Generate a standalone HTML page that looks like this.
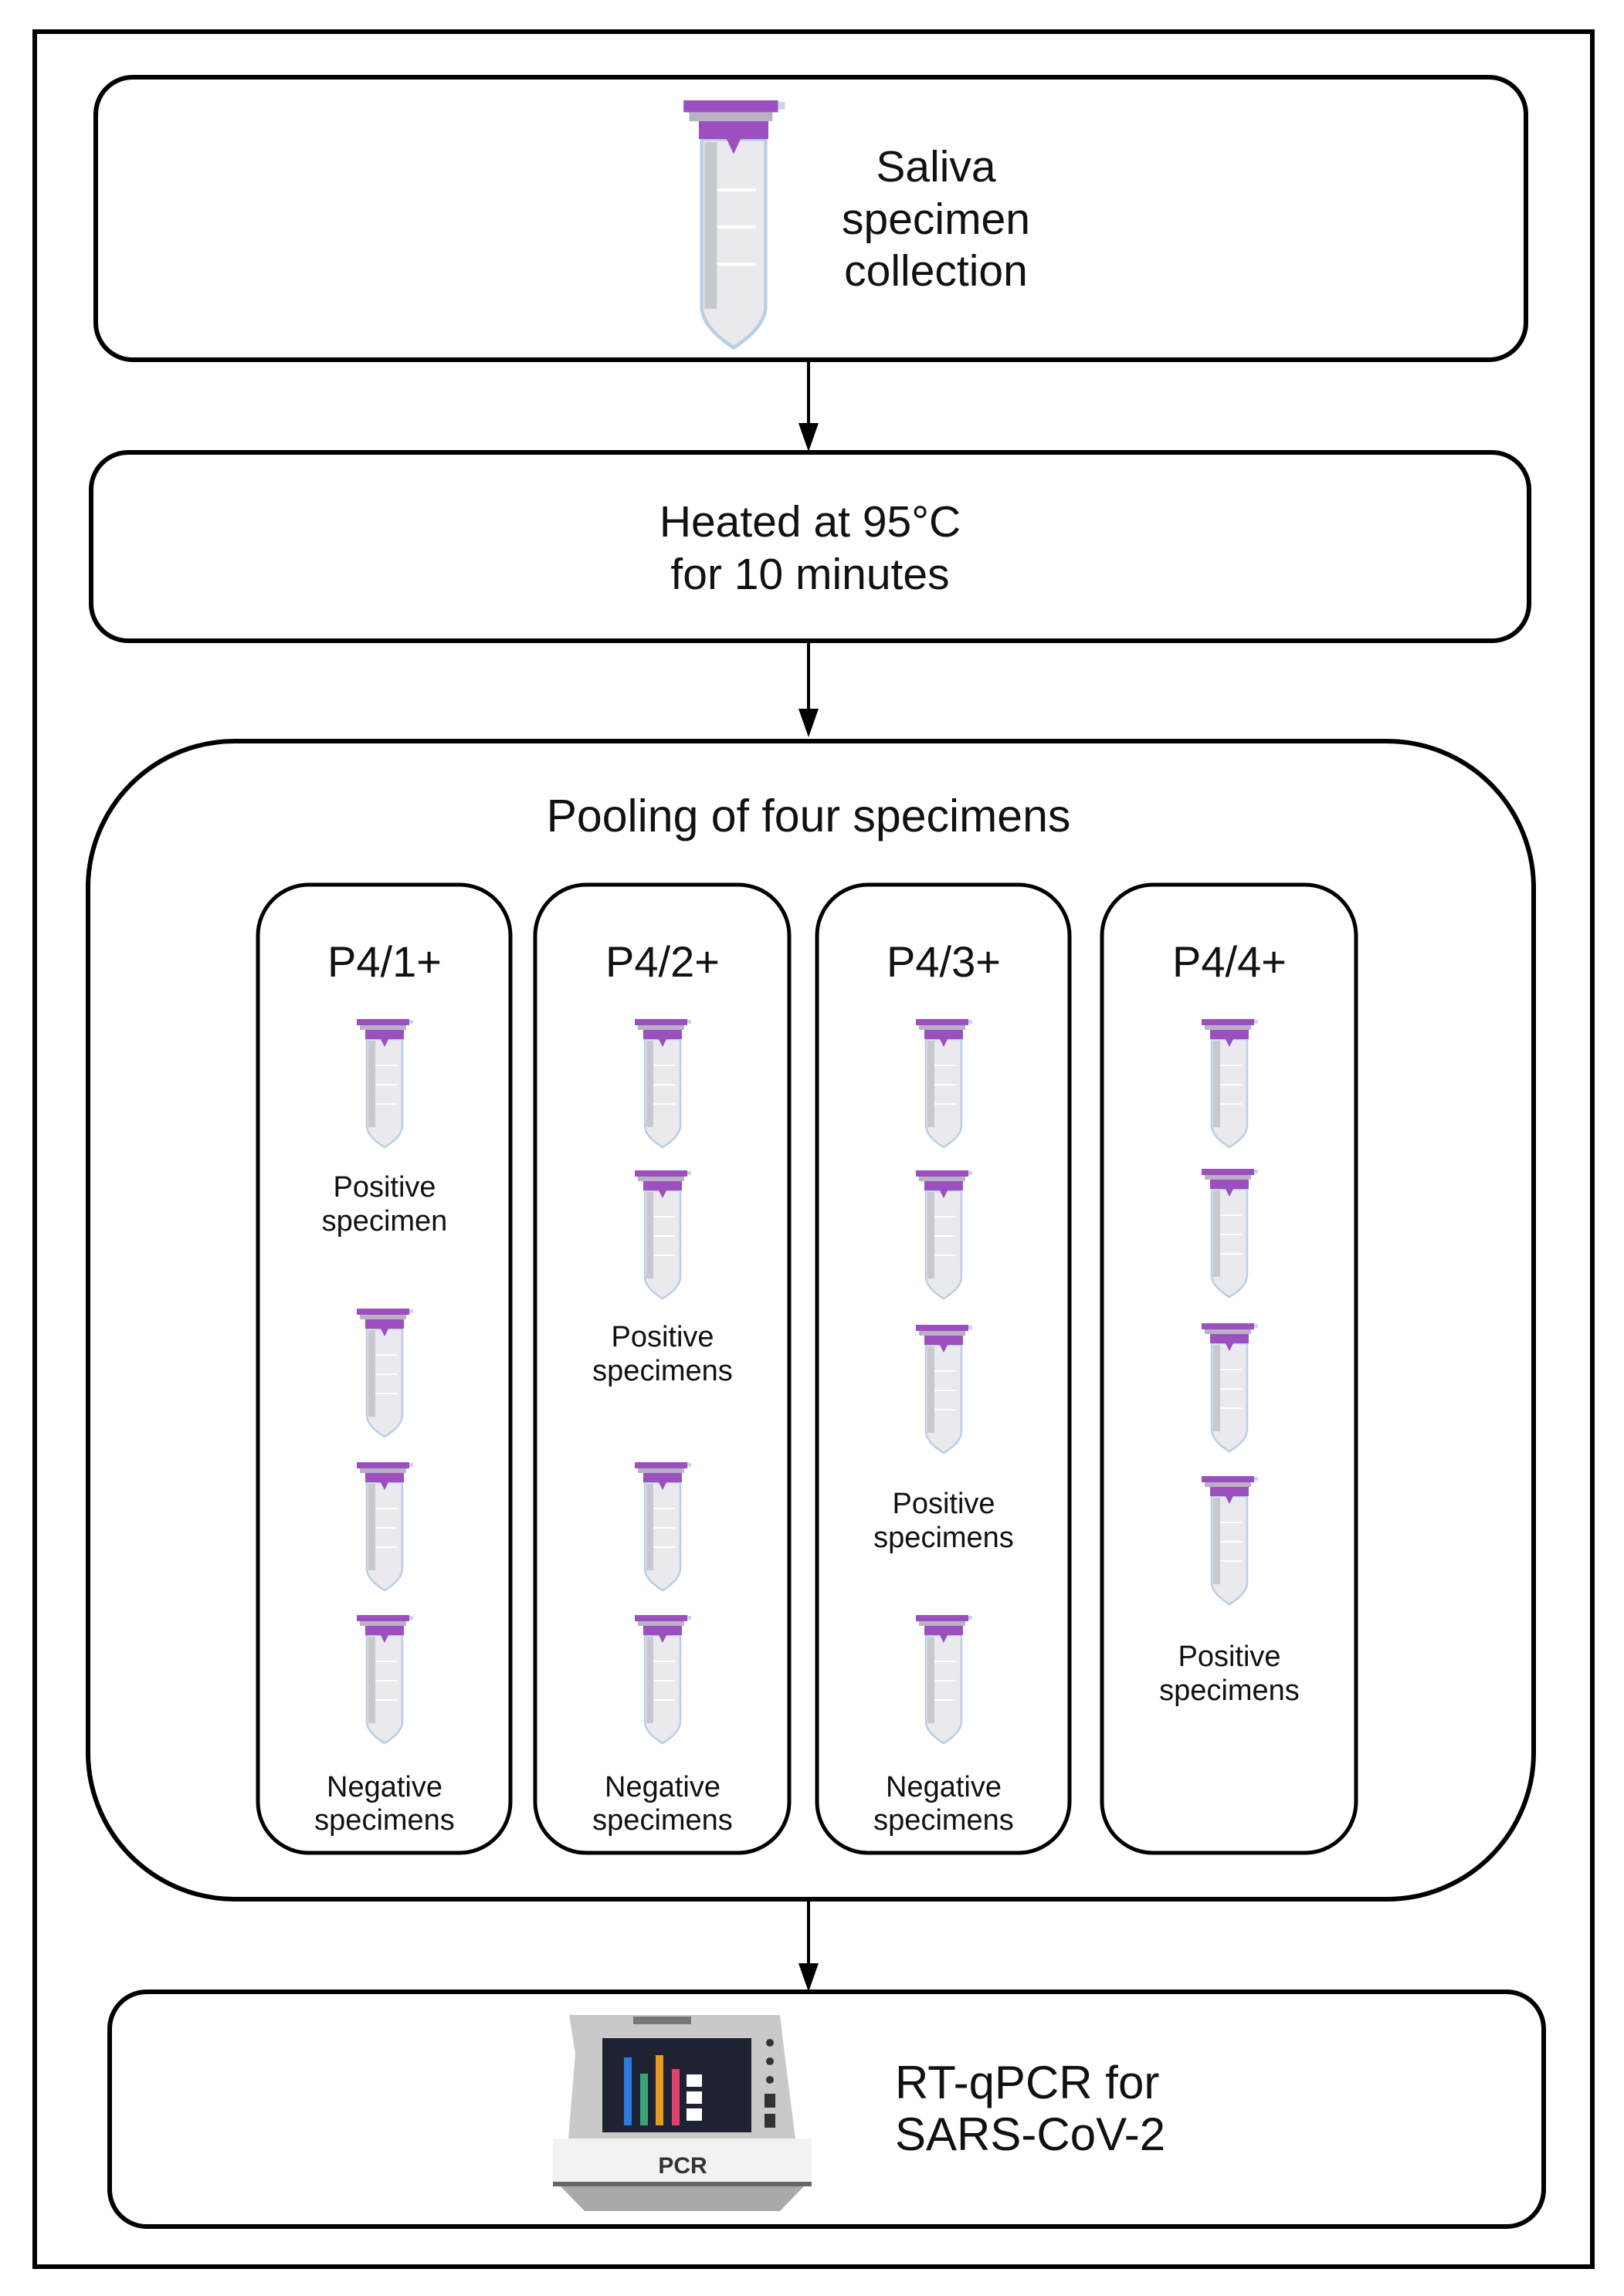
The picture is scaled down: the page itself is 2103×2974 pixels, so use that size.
<!DOCTYPE html>
<html><head><meta charset="utf-8"><style>
html,body{margin:0;padding:0;background:#fff}
svg{display:block}
text{font-family:"Liberation Sans",Arial,sans-serif;fill:#111}
</style></head><body>
<svg width="2103" height="2974" viewBox="0 0 2103 2974" xmlns="http://www.w3.org/2000/svg">
<defs>
<g id="tube">
  <path d="M-23,26 L23,26 L23,138 Q23,152 0,166 Q-23,152 -23,138 Z" fill="#e9e9ee" stroke="#b9cfe3" stroke-width="2.5"/>
  <rect x="-21" y="28" width="9" height="112" fill="#c8c8cf"/>
  <g stroke="#fff" stroke-width="2"><line x1="-12" y1="60" x2="16" y2="60"/><line x1="-12" y1="85" x2="16" y2="85"/><line x1="-12" y1="110" x2="16" y2="110"/></g>
  <rect x="-36" y="0" width="68" height="8" fill="#9c4fbf"/>
  <rect x="32" y="1" width="5" height="5" fill="#c9d6e6"/>
  <rect x="-32" y="8" width="60" height="6" fill="#b8b2c4"/>
  <path d="M-25,14 L25,14 L25,26 L5,26 L0,36 L-5,26 L-25,26 Z" fill="#9c4fbf"/>
</g>
</defs>
<rect x="45" y="41" width="2017" height="2895" fill="none" stroke="#000" stroke-width="6"/>
<!-- box1 -->
<rect x="124" y="100" width="1852" height="366" rx="48" fill="none" stroke="#000" stroke-width="6"/>
<use href="#tube" transform="translate(950,130) scale(1.8,1.93)"/>
<g font-size="57" text-anchor="middle">
<text x="1212" y="235">Saliva</text>
<text x="1212" y="303">specimen</text>
<text x="1212" y="370">collection</text>
</g>
<!-- arrows -->
<g stroke="#000" stroke-width="4"><line x1="1047" y1="466" x2="1047" y2="550"/><line x1="1047" y1="830" x2="1047" y2="920"/><line x1="1047" y1="2460" x2="1047" y2="2545"/></g>
<g fill="#000"><path d="M1034,548 L1060,548 L1047,585 Z"/><path d="M1034,918 L1060,918 L1047,955 Z"/><path d="M1034,2543 L1060,2543 L1047,2580 Z"/></g>
<!-- box2 -->
<rect x="118" y="586" width="1862" height="244" rx="48" fill="none" stroke="#000" stroke-width="6"/>
<g font-size="57" text-anchor="middle">
<text x="1049" y="695">Heated at 95°C</text>
<text x="1049" y="763">for 10 minutes</text>
</g>
<!-- box3 -->
<rect x="114" y="960" width="1872" height="1500" rx="190" fill="none" stroke="#000" stroke-width="6"/>
<text x="1047" y="1077" font-size="59" text-anchor="middle">Pooling of four specimens</text>
<g fill="none" stroke="#000" stroke-width="5">
<rect x="334" y="1146" width="327" height="1254" rx="66"/>
<rect x="693" y="1146" width="329" height="1254" rx="66"/>
<rect x="1058" y="1146" width="327" height="1254" rx="66"/>
<rect x="1427" y="1146" width="329" height="1254" rx="66"/>
</g>
<g font-size="56" text-anchor="middle">
<text x="498" y="1265">P4/1+</text>
<text x="858" y="1265">P4/2+</text>
<text x="1222" y="1265">P4/3+</text>
<text x="1592" y="1265">P4/4+</text>
</g>
<use href="#tube" transform="translate(498,1320)"/>
<use href="#tube" transform="translate(498,1695)"/>
<use href="#tube" transform="translate(498,1894)"/>
<use href="#tube" transform="translate(498,2092)"/>
<use href="#tube" transform="translate(858,1320)"/>
<use href="#tube" transform="translate(858,1516)"/>
<use href="#tube" transform="translate(858,1894)"/>
<use href="#tube" transform="translate(858,2092)"/>
<use href="#tube" transform="translate(1222,1320)"/>
<use href="#tube" transform="translate(1222,1516)"/>
<use href="#tube" transform="translate(1222,1716)"/>
<use href="#tube" transform="translate(1222,2092)"/>
<use href="#tube" transform="translate(1592,1320)"/>
<use href="#tube" transform="translate(1592,1514)"/>
<use href="#tube" transform="translate(1592,1714)"/>
<use href="#tube" transform="translate(1592,1912)"/>
<g font-size="38" text-anchor="middle">
<text x="498" y="1550">Positive</text><text x="498" y="1594">specimen</text>
<text x="858" y="1744">Positive</text><text x="858" y="1788">specimens</text>
<text x="1222" y="1960">Positive</text><text x="1222" y="2004">specimens</text>
<text x="1592" y="2158">Positive</text><text x="1592" y="2202">specimens</text>
<text x="498" y="2327">Negative</text><text x="498" y="2370">specimens</text>
<text x="858" y="2327">Negative</text><text x="858" y="2370">specimens</text>
<text x="1222" y="2327">Negative</text><text x="1222" y="2370">specimens</text>
</g>
<!-- box4 -->
<rect x="142" y="2580" width="1857" height="304" rx="48" fill="none" stroke="#000" stroke-width="6"/>
<!-- PCR machine -->
<g>
<path d="M737,2610 L1010,2610 L1016,2660 L1030,2770 L736,2770 L745,2660 Z" fill="#c9c9c9"/>
<rect x="820" y="2612" width="75" height="10" fill="#777"/>
<rect x="780" y="2640" width="193" height="122" fill="#1e2233"/>
<rect x="808" y="2665" width="10" height="88" fill="#2b7be0"/>
<rect x="829" y="2686" width="10" height="67" fill="#3aa37a"/>
<rect x="849" y="2662" width="10" height="91" fill="#e99a25"/>
<rect x="870" y="2680" width="10" height="73" fill="#e0416a"/>
<rect x="889" y="2687" width="20" height="16" fill="#fff"/><rect x="889" y="2709" width="20" height="16" fill="#fff"/><rect x="889" y="2731" width="20" height="16" fill="#fff"/>
<circle cx="997" cy="2646" r="5" fill="#333"/><circle cx="997" cy="2670" r="5" fill="#333"/><circle cx="997" cy="2694" r="5" fill="#333"/>
<rect x="990" y="2712" width="14" height="18" fill="#333"/><rect x="990" y="2738" width="14" height="18" fill="#333"/>
<rect x="716" y="2770" width="335" height="60" fill="#f2f2f2"/>
<rect x="716" y="2826" width="335" height="6" fill="#666"/>
<text x="884" y="2815" font-size="30" font-weight="bold" text-anchor="middle" style="fill:#333">PCR</text>
<path d="M726,2832 L1041,2832 L1010,2864 L757,2864 Z" fill="#a9a9a9"/>
</g>
<g font-size="60">
<text x="1159" y="2718">RT-qPCR for</text>
<text x="1159" y="2785">SARS-CoV-2</text>
</g>
</svg>
</body></html>
